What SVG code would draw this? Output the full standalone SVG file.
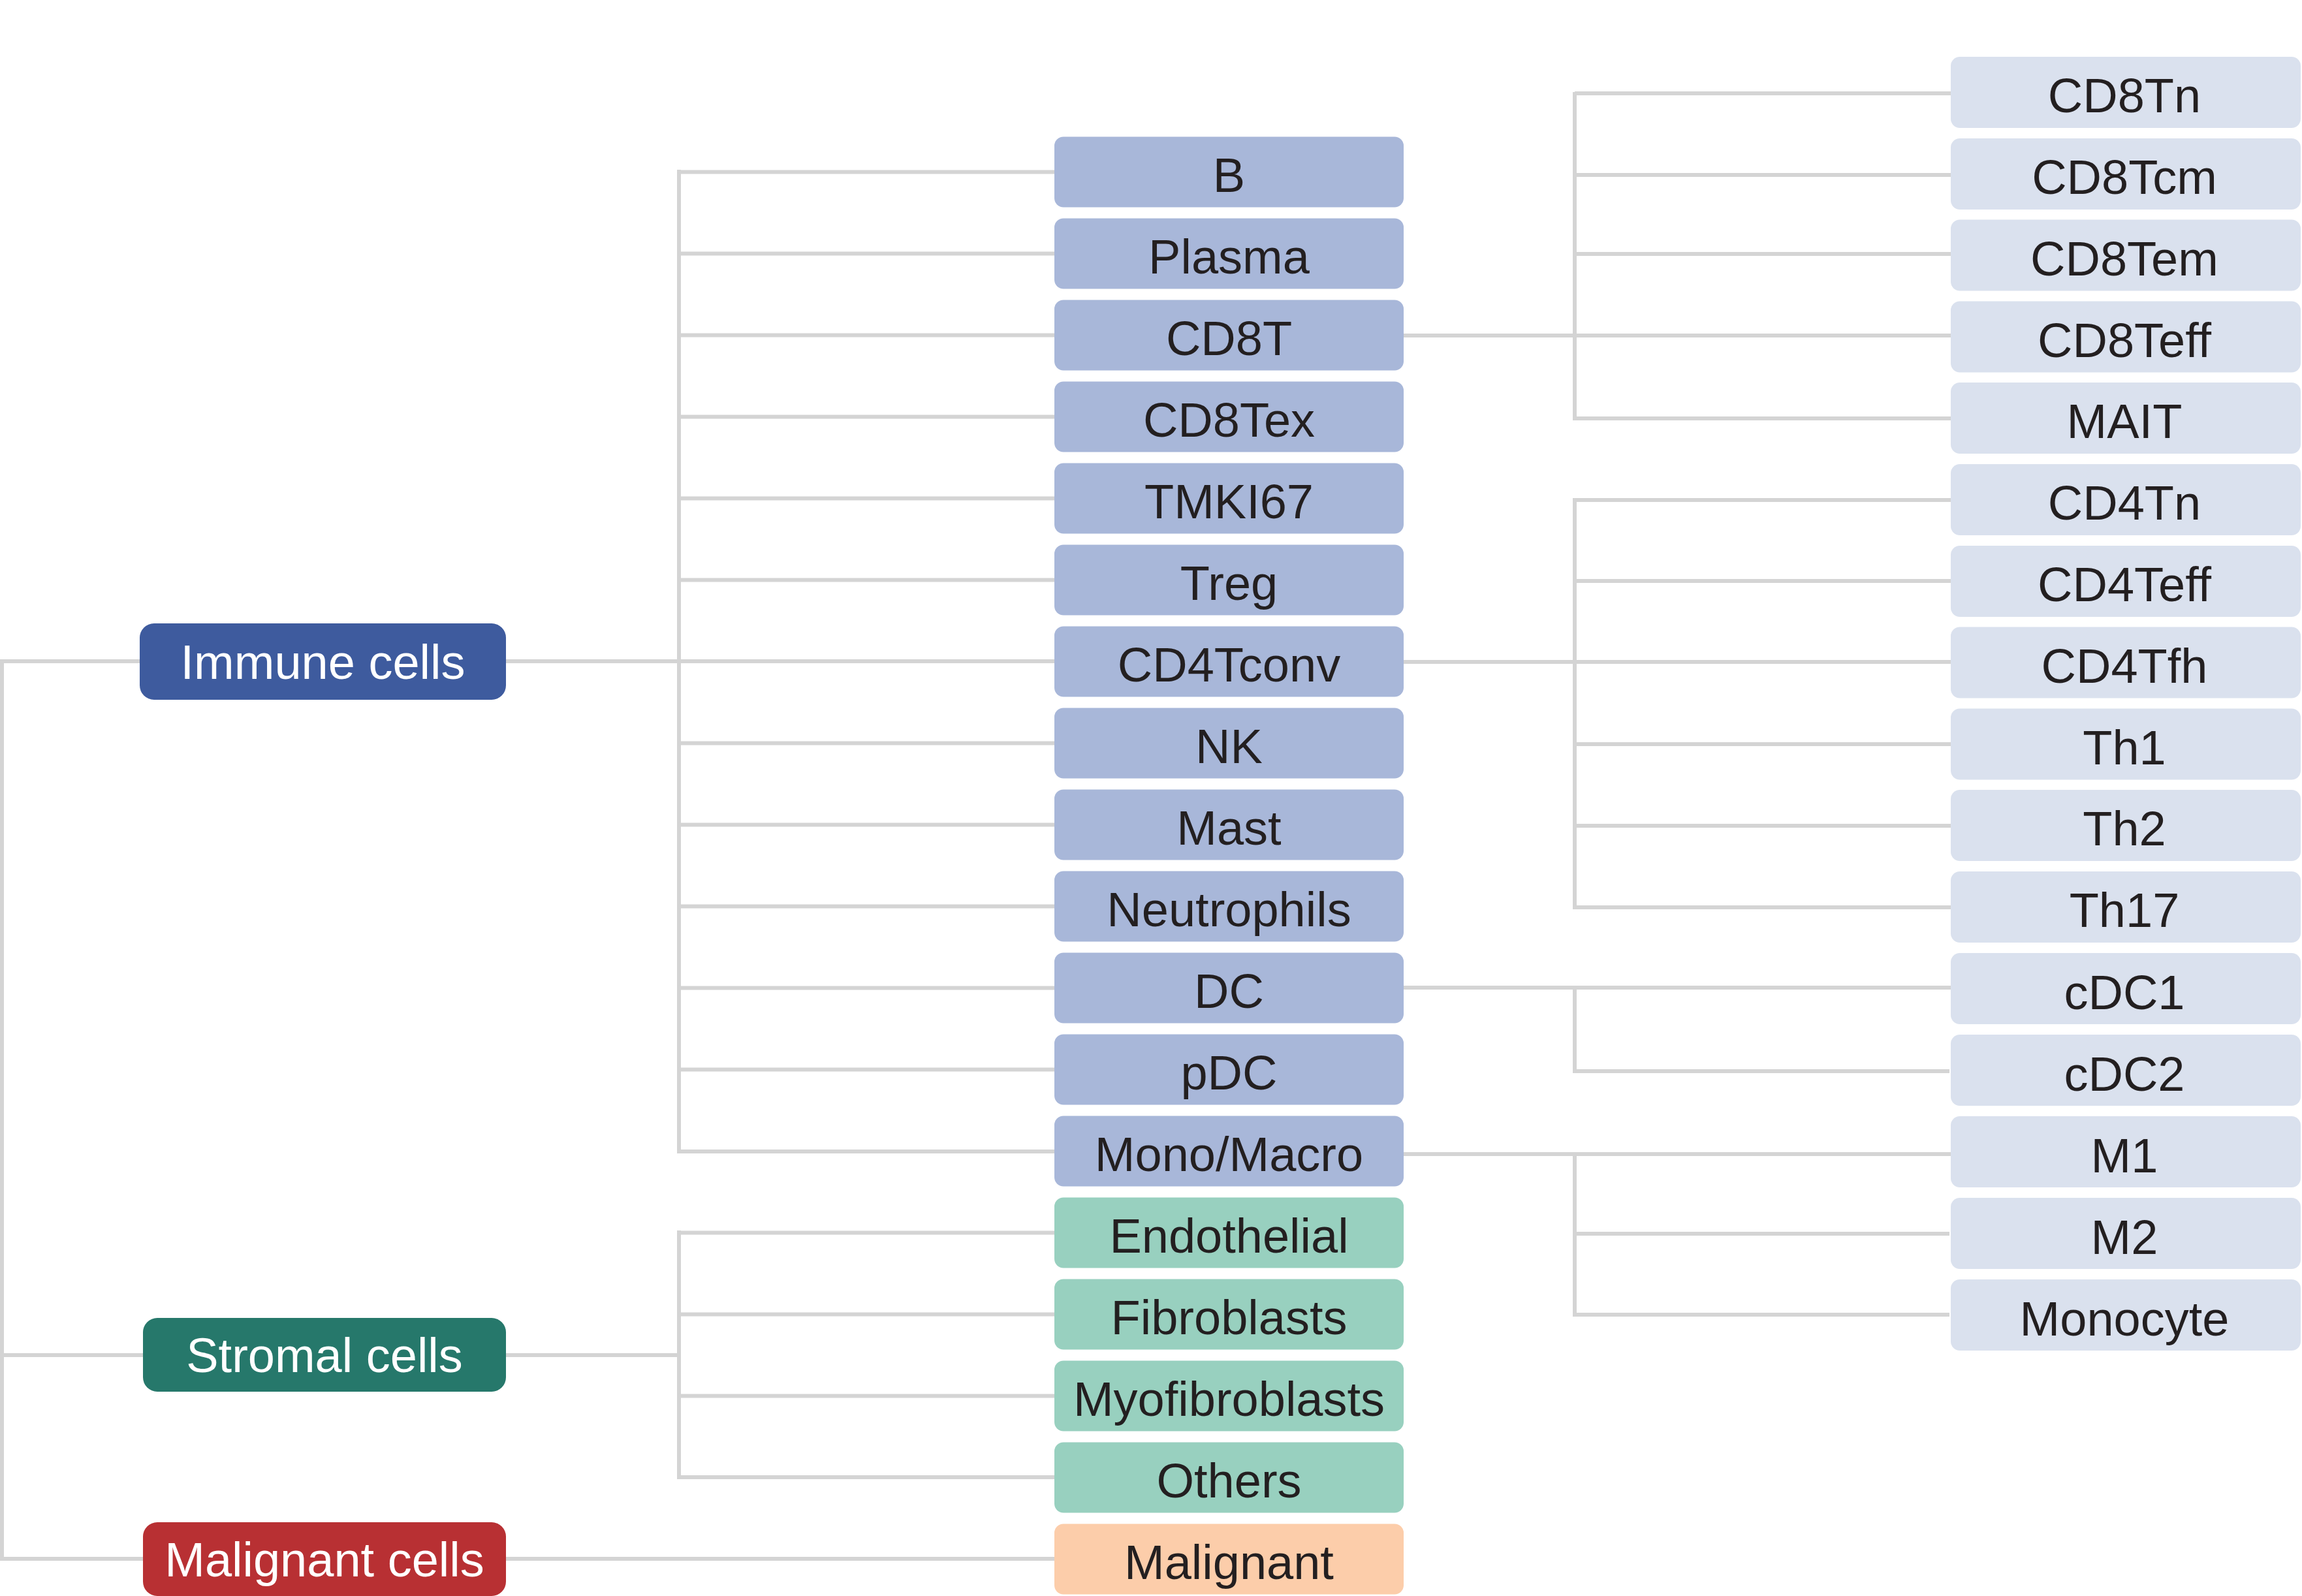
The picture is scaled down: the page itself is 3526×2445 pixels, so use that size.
<svg xmlns="http://www.w3.org/2000/svg" width="3526" height="2445" viewBox="0 0 3526 2445">
<style>
.ln{stroke:#D4D4D4;stroke-width:6;fill:none;stroke-linecap:butt}
.t{font-family:"Liberation Sans",Arial,sans-serif;font-size:74px;text-anchor:middle;fill:#231F20}
.tw{font-family:"Liberation Sans",Arial,sans-serif;font-size:74px;text-anchor:middle;fill:#FFFFFF}
.imm{fill:#3E5B9E}.str{fill:#26786B}.mal{fill:#B83033}
.ic{fill:#A8B7D9}.sc{fill:#98D0BF}.mc{fill:#FCCDAA}.sub{fill:#DAE1EE}
</style>
<rect width="3526" height="2445" fill="#FFFFFF"/>
<g id="connectors" class="ln">
<path d="M3,1010V2391M3,1013H214M3,2076H219M3,2388H219"/>
<path d="M775,1013H1615M1040,260V1767M1040,263.5H1615M1040,388.5H1615M1040,513.5H1615M1040,638.5H1615M1040,763.5H1615M1040,888.5H1615M1040,1138.5H1615M1040,1263.5H1615M1040,1388.5H1615M1040,1513.5H1615M1040,1638.5H1615M1040,1764H1615"/>
<path d="M775,2076H1040M1040,1885V2266M1040,1888.5H1615M1040,2013.5H1615M1040,2138.5H1615M1040,2263H1615"/>
<path d="M775,2388H1615"/>
<path d="M2150,514H2988M2412,141V644M2412,143H2988M2412,268H2988M2412,389H2988M2412,641H2988"/>
<path d="M2150,1014H2988M2412,763V1393M2412,766H2988M2412,890H2988M2412,1140H2988M2412,1265H2988M2412,1390H2988"/>
<path d="M2150,1513H2988M2412,1510V1644M2412,1641H2986"/>
<path d="M2150,1768H2988M2412,1765V2017M2412,1890H2986M2412,2014H2986"/>
</g>
<g id="n-immune"><rect class="imm" x="214" y="955" width="561" height="117" rx="22"/><text class="tw" x="494.5" y="1040">Immune cells</text></g>
<g id="n-stromal"><rect class="str" x="219" y="2019" width="556" height="113" rx="22"/><text class="tw" x="497" y="2102">Stromal cells</text></g>
<g id="n-malignantcells"><rect class="mal" x="219" y="2332" width="556" height="113" rx="22"/><text class="tw" x="497" y="2415">Malignant cells</text></g>
<g id="n-B"><rect class="ic" x="1615" y="209.5" width="535" height="108" rx="14"/><text class="t" x="1882.5" y="293.5">B</text></g>
<g id="n-Plasma"><rect class="ic" x="1615" y="334.5" width="535" height="108" rx="14"/><text class="t" x="1882.5" y="418.5">Plasma</text></g>
<g id="n-CD8T"><rect class="ic" x="1615" y="459.5" width="535" height="108" rx="14"/><text class="t" x="1882.5" y="543.5">CD8T</text></g>
<g id="n-CD8Tex"><rect class="ic" x="1615" y="584.5" width="535" height="108" rx="14"/><text class="t" x="1882.5" y="668.5">CD8Tex</text></g>
<g id="n-TMKI67"><rect class="ic" x="1615" y="709.5" width="535" height="108" rx="14"/><text class="t" x="1882.5" y="793.5">TMKI67</text></g>
<g id="n-Treg"><rect class="ic" x="1615" y="834.5" width="535" height="108" rx="14"/><text class="t" x="1882.5" y="918.5">Treg</text></g>
<g id="n-CD4Tconv"><rect class="ic" x="1615" y="959.5" width="535" height="108" rx="14"/><text class="t" x="1882.5" y="1043.5">CD4Tconv</text></g>
<g id="n-NK"><rect class="ic" x="1615" y="1084.5" width="535" height="108" rx="14"/><text class="t" x="1882.5" y="1168.5">NK</text></g>
<g id="n-Mast"><rect class="ic" x="1615" y="1209.5" width="535" height="108" rx="14"/><text class="t" x="1882.5" y="1293.5">Mast</text></g>
<g id="n-Neutrophils"><rect class="ic" x="1615" y="1334.5" width="535" height="108" rx="14"/><text class="t" x="1882.5" y="1418.5">Neutrophils</text></g>
<g id="n-DC"><rect class="ic" x="1615" y="1459.5" width="535" height="108" rx="14"/><text class="t" x="1882.5" y="1543.5">DC</text></g>
<g id="n-pDC"><rect class="ic" x="1615" y="1584.5" width="535" height="108" rx="14"/><text class="t" x="1882.5" y="1668.5">pDC</text></g>
<g id="n-MonoMacro"><rect class="ic" x="1615" y="1709.5" width="535" height="108" rx="14"/><text class="t" x="1882.5" y="1793.5">Mono/Macro</text></g>
<g id="n-Endothelial"><rect class="sc" x="1615" y="1834.5" width="535" height="108" rx="14"/><text class="t" x="1882.5" y="1918.5">Endothelial</text></g>
<g id="n-Fibroblasts"><rect class="sc" x="1615" y="1959.5" width="535" height="108" rx="14"/><text class="t" x="1882.5" y="2043.5">Fibroblasts</text></g>
<g id="n-Myofibroblasts"><rect class="sc" x="1615" y="2084.5" width="535" height="108" rx="14"/><text class="t" x="1882.5" y="2168.5">Myofibroblasts</text></g>
<g id="n-Others"><rect class="sc" x="1615" y="2209.5" width="535" height="108" rx="14"/><text class="t" x="1882.5" y="2293.5">Others</text></g>
<g id="n-Malignant"><rect class="mc" x="1615" y="2334.5" width="535" height="108" rx="14"/><text class="t" x="1882.5" y="2418.5">Malignant</text></g>
<g id="n-CD8Tn"><rect class="sub" x="2988" y="87" width="536" height="109" rx="14"/><text class="t" x="3254" y="172">CD8Tn</text></g>
<g id="n-CD8Tcm"><rect class="sub" x="2988" y="212" width="536" height="109" rx="14"/><text class="t" x="3254" y="297">CD8Tcm</text></g>
<g id="n-CD8Tem"><rect class="sub" x="2988" y="336.5" width="536" height="109" rx="14"/><text class="t" x="3254" y="421.5">CD8Tem</text></g>
<g id="n-CD8Teff"><rect class="sub" x="2988" y="461.5" width="536" height="109" rx="14"/><text class="t" x="3254" y="546.5">CD8Teff</text></g>
<g id="n-MAIT"><rect class="sub" x="2988" y="586" width="536" height="109" rx="14"/><text class="t" x="3254" y="671">MAIT</text></g>
<g id="n-CD4Tn"><rect class="sub" x="2988" y="711" width="536" height="109" rx="14"/><text class="t" x="3254" y="796">CD4Tn</text></g>
<g id="n-CD4Teff"><rect class="sub" x="2988" y="836" width="536" height="109" rx="14"/><text class="t" x="3254" y="921">CD4Teff</text></g>
<g id="n-CD4Tfh"><rect class="sub" x="2988" y="960.5" width="536" height="109" rx="14"/><text class="t" x="3254" y="1045.5">CD4Tfh</text></g>
<g id="n-Th1"><rect class="sub" x="2988" y="1085.5" width="536" height="109" rx="14"/><text class="t" x="3254" y="1170.5">Th1</text></g>
<g id="n-Th2"><rect class="sub" x="2988" y="1210" width="536" height="109" rx="14"/><text class="t" x="3254" y="1295">Th2</text></g>
<g id="n-Th17"><rect class="sub" x="2988" y="1335" width="536" height="109" rx="14"/><text class="t" x="3254" y="1420">Th17</text></g>
<g id="n-cDC1"><rect class="sub" x="2988" y="1460" width="536" height="109" rx="14"/><text class="t" x="3254" y="1546">cDC1</text></g>
<g id="n-cDC2"><rect class="sub" x="2988" y="1585" width="536" height="109" rx="14"/><text class="t" x="3254" y="1671">cDC2</text></g>
<g id="n-M1"><rect class="sub" x="2988" y="1710" width="536" height="109" rx="14"/><text class="t" x="3254" y="1796">M1</text></g>
<g id="n-M2"><rect class="sub" x="2988" y="1835" width="536" height="109" rx="14"/><text class="t" x="3254" y="1921">M2</text></g>
<g id="n-Monocyte"><rect class="sub" x="2988" y="1960" width="536" height="109" rx="14"/><text class="t" x="3254" y="2046">Monocyte</text></g>
</svg>
